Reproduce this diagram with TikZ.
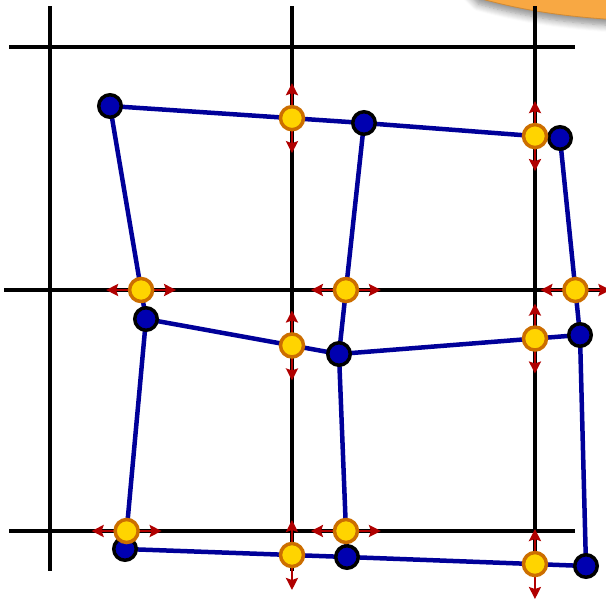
\documentclass[tikz,border=0pt]{standalone}
\usetikzlibrary{arrows.meta,shadows.blur}
\definecolor{gridblack}{HTML}{000000}
\definecolor{meshblue}{HTML}{000099}
\definecolor{dotblue}{HTML}{0000B0}
\definecolor{ydot}{HTML}{FFD400}
\definecolor{yring}{HTML}{CC6E00}
\definecolor{arrred}{HTML}{B00000}
\definecolor{blobor}{HTML}{F8A843}
\definecolor{blobedge}{HTML}{D08A35}
\tikzset{
  gridline/.style={line width=4pt, gridblack},
  meshedge/.style={line width=4.5pt, meshblue},
  vertexdot/.style={circle, draw=black, fill=dotblue, line width=3.5pt, minimum size=22.5pt, inner sep=0pt},
  hitdot/.style={circle, draw=yring, fill=ydot, line width=3.5pt, minimum size=23pt, inner sep=0pt},
  pusharrow/.style={line width=2.4pt, arrred, -{Stealth[length=12pt,width=12pt,inset=2pt]}},
}
\begin{document}
\begin{tikzpicture}[x=1pt,y=-1pt]
\useasboundingbox (0,0) rectangle (606,598);
\clip (0,0) rectangle (606,598);
% orange blob (top right)
\path[fill=blobor, draw=blobedge, line width=0.8pt,
      blur shadow={shadow xshift=0pt, shadow yshift=-6pt, shadow blur radius=7pt, shadow blur steps=8, shadow opacity=45}]
  (450,-30) -- (478,-2) .. controls (525,11) and (570,18) .. (640,21) -- (640,-30) -- cycle;
% grid
\coordinate (v1t) at (50,6);   \coordinate (v1b) at (50,571);
\coordinate (v2t) at (292,6);  \coordinate (v2b) at (292,571);
\coordinate (v3t) at (535,6);  \coordinate (v3b) at (535,571);
\coordinate (h1l) at (9,47);   \coordinate (h1r) at (575,47);
\coordinate (h2l) at (4,290);  \coordinate (h2r) at (610,290);
\coordinate (h3l) at (9,531);  \coordinate (h3r) at (575,531);
\draw[gridline] (v1t) -- (v1b);
\draw[gridline] (v2t) -- (v2b);
\draw[gridline] (v3t) -- (v3b);
\draw[gridline] (h1l) -- (h1r);
\draw[gridline] (h2l) -- (h2r);
\draw[gridline] (h3l) -- (h3r);
% mesh vertices
\coordinate (A1) at (110,106); \coordinate (A2) at (364,123); \coordinate (A3) at (560,138);
\coordinate (B1) at (146,319); \coordinate (B2) at (339,354); \coordinate (B3) at (580,335);
\coordinate (C1) at (125,549); \coordinate (C2) at (347,557); \coordinate (C3) at (586,566);
\draw[meshedge] (A1) -- (A2) -- (A3);
\draw[meshedge] (B1) -- (B2) -- (B3);
\draw[meshedge] (C1) -- (C2) -- (C3);
\draw[meshedge] (A1) -- (B1) -- (C1);
\draw[meshedge] (A2) -- (B2) -- (C2);
\draw[meshedge] (A3) -- (B3) -- (C3);
% intersections
\coordinate (y1) at (intersection of A1--A2 and v2t--v2b);
\coordinate (y2) at (intersection of A2--A3 and v3t--v3b);
\coordinate (y3) at (intersection of A1--B1 and h2l--h2r);
\coordinate (y4) at (intersection of A2--B2 and h2l--h2r);
\coordinate (y5) at (intersection of A3--B3 and h2l--h2r);
\coordinate (y6) at (intersection of B1--B2 and v2t--v2b);
\coordinate (y7) at (intersection of B2--B3 and v3t--v3b);
\coordinate (y8) at (intersection of B1--C1 and h3l--h3r);
\coordinate (y9) at (intersection of B2--C2 and h3l--h3r);
\coordinate (y10) at (intersection of C1--C2 and v2t--v2b);
\coordinate (y11) at (intersection of C2--C3 and v3t--v3b);
% arrows
\foreach \p in {y1,y2,y6,y7,y10,y11}{
  \draw[pusharrow] (\p) -- ++(0,-35);
  \draw[pusharrow] (\p) -- ++(0,35);
}
\foreach \p in {y3,y4,y5,y8,y9}{
  \draw[pusharrow] (\p) -- ++(-35,0);
  \draw[pusharrow] (\p) -- ++(35,0);
}
% vertex dots
\foreach \p in {A1,A2,A3,B1,B2,B3,C1,C2,C3}{
  \node[vertexdot] (n\p) at (\p) {};
}
% intersection dots
\foreach \p in {y1,y2,y3,y4,y5,y6,y7,y8,y9,y10,y11}{
  \node[hitdot] (n\p) at (\p) {};
}
\end{tikzpicture}
\end{document}
